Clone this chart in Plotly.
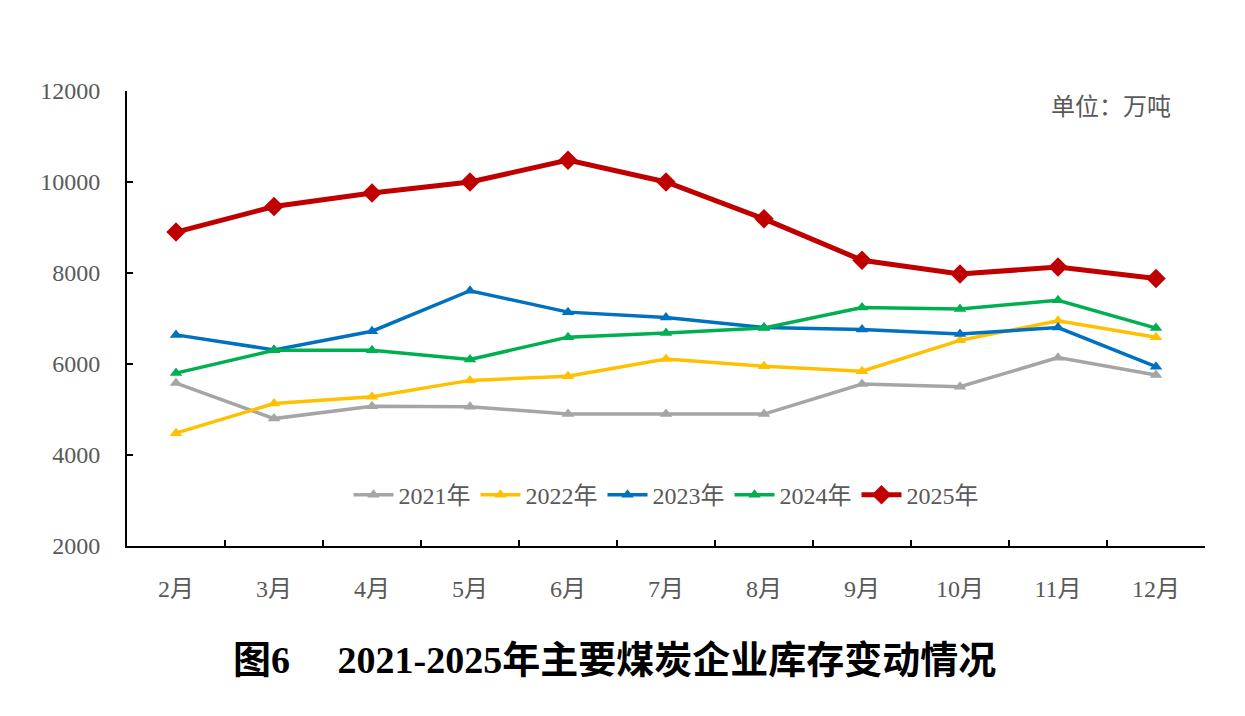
import plotly.graph_objects as go

months = ["2月", "3月", "4月", "5月", "6月", "7月", "8月", "9月", "10月", "11月", "12月"]
s2021 = [5580, 4800, 5070, 5060, 4900, 4900, 4900, 5560, 5500, 6140, 5760]
s2022 = [4480, 5130, 5280, 5640, 5730, 6110, 5950, 5840, 6520, 6950, 6590]
s2023 = [6640, 6310, 6720, 7610, 7140, 7020, 6800, 6760, 6660, 6800, 5940]
s2024 = [5800, 6300, 6300, 6100, 6590, 6680, 6790, 7240, 7210, 7400, 6790]
s2025 = [8900, 9460, 9760, 10000, 10480, 10000, 9190, 8280, 7980, 8130, 7880]

series = [
    ("2021年", s2021, "#A5A5A5", 3.5, "triangle-up", 11),
    ("2022年", s2022, "#FFC000", 3.5, "triangle-up", 11),
    ("2023年", s2023, "#0070C0", 3.5, "triangle-up", 11),
    ("2024年", s2024, "#00B050", 3.5, "triangle-up", 11),
    ("2025年", s2025, "#C00000", 5, "diamond", 15),
]

fig = go.Figure()
for name, vals, color, lw, sym, ms in series:
    fig.add_trace(go.Scatter(
        x=months, y=vals, name=name, mode="lines+markers",
        line=dict(color=color, width=lw),
        marker=dict(symbol=sym, size=ms, color=color),
    ))

serif = "Liberation Serif, Times New Roman, Noto Sans CJK SC, serif"
gray = "#595959"

fig.update_layout(
    width=1245, height=716,
    margin=dict(l=127, r=40, t=91, b=170),
    paper_bgcolor="white", plot_bgcolor="white",
    font=dict(family=serif, color=gray),
    showlegend=True,
    legend=dict(
        orientation="h", x=0.5, xanchor="center", y=0.112, yanchor="middle",
        font=dict(size=24, color=gray, family=serif),
        bgcolor="rgba(0,0,0,0)", itemwidth=40, tracegroupgap=0,
    ),
    xaxis=dict(
        type="category", range=[-0.5, 10.5],
        showline=True, linecolor="black", linewidth=2,
        ticks="inside", tickson="boundaries", ticklen=6, tickwidth=2, tickcolor="black",
        showgrid=False, zeroline=False,
        tickfont=dict(size=24, color=gray, family=serif),
        ticklabelstandoff=20,
    ),
    yaxis=dict(
        range=[2000, 12000], dtick=2000, tick0=2000, tickformat="d",
        showline=True, linecolor="black", linewidth=2,
        ticks="inside", ticklen=6, tickwidth=2, tickcolor="black",
        showgrid=False, zeroline=False,
        tickfont=dict(size=24, color=gray, family=serif),
        ticklabelstandoff=20,
    ),
    annotations=[
        dict(text="单位：万吨", xref="paper", yref="paper", x=0.97, y=0.965,
             xanchor="right", yanchor="middle", showarrow=False,
             font=dict(size=24, color=gray, family=serif)),
        dict(text="<b>图6　 2021-2025年主要煤炭企业库存变动情况</b>", xref="paper", yref="paper",
             x=0.452, y=-0.251, xanchor="center", yanchor="middle", showarrow=False,
             font=dict(size=38, color="black", family=serif)),
    ],
)

fig.write_html("out.html")
